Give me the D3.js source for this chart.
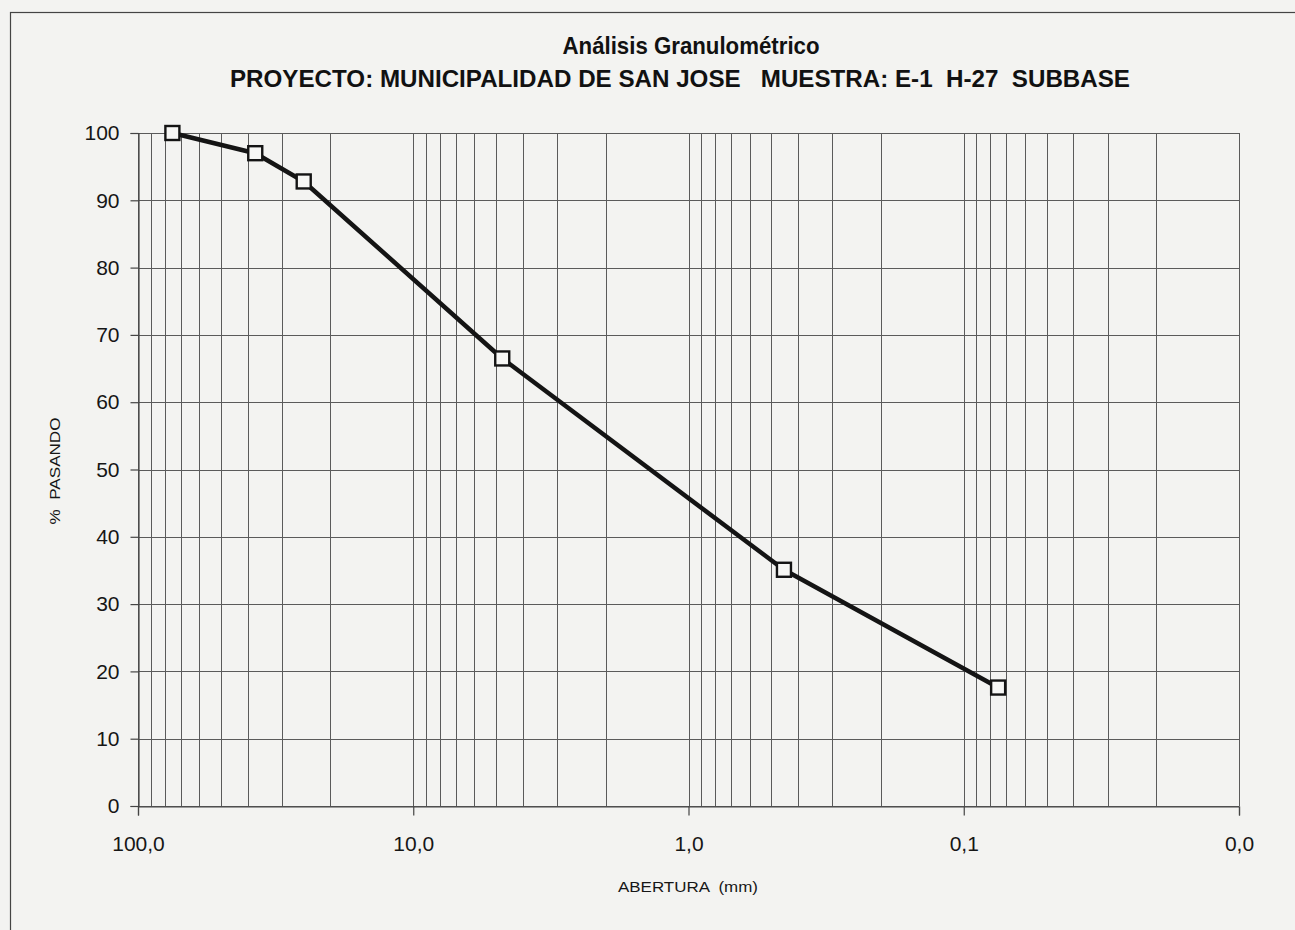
<!DOCTYPE html>
<html>
<head>
<meta charset="utf-8">
<script src="https://cdn.jsdelivr.net/npm/d3@7"></script>
<style>
	body { margin: 0; background: #f3f3f1; }
	svg { display: block; }
	.title { font-family: "Liberation Sans", Arial, sans-serif; font-weight: bold; }
	.tick text { font-family: "Liberation Sans", Arial, sans-serif; }
</style>
</head>
<body>
<div id="chart"></div>
<script>
// tamiz (mm) y % que pasa
const aberturas = [75, 37.5, 25, 4.75, 0.45, 0.075];
const pasando = [100, 97, 92.8, 66.5, 35.1, 17.6];
const xTicks = [100, 10, 1, 0.1, 0.01];
const yTicks = [0, 10, 20, 30, 40, 50, 60, 70, 80, 90, 100];
const titulo = 'Análisis Granulométrico';
const subtitulo = 'PROYECTO: MUNICIPALIDAD DE SAN JOSE   MUESTRA: E-1  H-27  SUBBASE';

const widthSvg = 1295;
const heightSvg = 930;
const margin = {top: 133, right: 56, bottom: 124, left: 138};

const locale = d3.formatLocale({decimal: ',', thousands: '.', grouping: [3], currency: ['', '']});
const fmt = locale.format('.1f');

const svg = d3.select('#chart').append('svg')
	.attr('width', widthSvg)
	.attr('height', heightSvg);

// marco exterior
svg.append('rect')
	.attr('x', 10.5).attr('y', 12.5)
	.attr('width', widthSvg + 20).attr('height', heightSvg + 20)
	.attr('fill', 'none')
	.attr('stroke', '#444')
	.attr('stroke-width', 1.2);

const x = d3.scaleLog()
	.domain([100, 0.01])
	.range([margin.left, widthSvg - margin.right]);

const y = d3.scaleLinear()
	.domain([0, 100])
	.range([heightSvg - margin.bottom, margin.top]);

// rejilla
const grid = svg.append('g').attr('stroke', '#5a5a5a').attr('stroke-width', 1);
grid.selectAll('line.v')
	.data(x.ticks())
	.enter().append('line')
	.attr('class', 'v')
	.attr('x1', d => Math.round(x(d)) + 0.5)
	.attr('x2', d => Math.round(x(d)) + 0.5)
	.attr('y1', y(100))
	.attr('y2', y(0));
grid.selectAll('line.h')
	.data(yTicks)
	.enter().append('line')
	.attr('class', 'h')
	.attr('x1', x(100))
	.attr('x2', x(0.01))
	.attr('y1', d => Math.round(y(d)) + 0.5)
	.attr('y2', d => Math.round(y(d)) + 0.5);

const yAxis = d3.axisLeft(y)
	.tickValues(yTicks)
	.tickSize(8)
	.tickPadding(11);
const gy = svg.append('g')
	.attr('transform', `translate(${margin.left + 0.5},0)`)
	.call(yAxis);

const xAxis = d3.axisBottom(x)
	.tickValues(xTicks)
	.tickFormat(d => fmt(d))
	.tickSize(9)
	.tickPadding(21);
const gx = svg.append('g')
	.attr('transform', `translate(0,${heightSvg - margin.bottom + 0.5})`)
	.call(xAxis);

[gx, gy].forEach(g => {
	g.select('.domain').attr('stroke', '#444').attr('stroke-width', 1.2);
	g.selectAll('.tick line').attr('stroke', '#444').attr('stroke-width', 1.2);
	g.selectAll('.tick text').attr('fill', '#161616').style('font-size', '21px');
});

// curva granulometrica
const line = d3.line()
	.x((d, i) => x(aberturas[i]))
	.y(d => y(d));
svg.append('path')
	.datum(pasando)
	.attr('d', line)
	.attr('fill', 'none')
	.attr('stroke', '#141414')
	.attr('stroke-width', 4.5)
	.attr('stroke-linejoin', 'round');

svg.selectAll('rect.punto')
	.data(pasando)
	.enter().append('rect')
	.attr('class', 'punto')
	.attr('x', (d, i) => x(aberturas[i]) - 7)
	.attr('y', d => y(d) - 7)
	.attr('width', 14)
	.attr('height', 14)
	.attr('fill', '#f7f7f5')
	.attr('stroke', '#141414')
	.attr('stroke-width', 2.4);

// titulos
svg.append('text')
	.attr('class', 'title')
	.attr('x', 691).attr('y', 54)
	.attr('text-anchor', 'middle')
	.attr('textLength', 257)
	.attr('lengthAdjust', 'spacingAndGlyphs')
	.style('font-size', '24px')
	.attr('fill', '#111')
	.text(titulo);
svg.append('text')
	.attr('class', 'title')
	.attr('x', 680).attr('y', 87)
	.attr('text-anchor', 'middle')
	.attr('textLength', 900)
	.attr('lengthAdjust', 'spacingAndGlyphs')
	.style('font-size', '24px')
	.style('white-space', 'pre')
	.attr('fill', '#111')
	.text(subtitulo);

svg.append('text')
	.attr('x', 688).attr('y', 892)
	.attr('text-anchor', 'middle')
	.attr('textLength', 140)
	.attr('lengthAdjust', 'spacingAndGlyphs')
	.style('font-family', '"Liberation Sans", Arial, sans-serif')
	.style('font-size', '15px')
	.style('white-space', 'pre')
	.attr('fill', '#161616')
	.text('ABERTURA  (mm)');

svg.append('text')
	.attr('transform', 'translate(60,471) rotate(-90)')
	.attr('text-anchor', 'middle')
	.attr('textLength', 107)
	.attr('lengthAdjust', 'spacingAndGlyphs')
	.style('font-family', '"Liberation Sans", Arial, sans-serif')
	.style('font-size', '15px')
	.style('white-space', 'pre')
	.attr('fill', '#161616')
	.text('%  PASANDO');
</script>
</body>
</html>
